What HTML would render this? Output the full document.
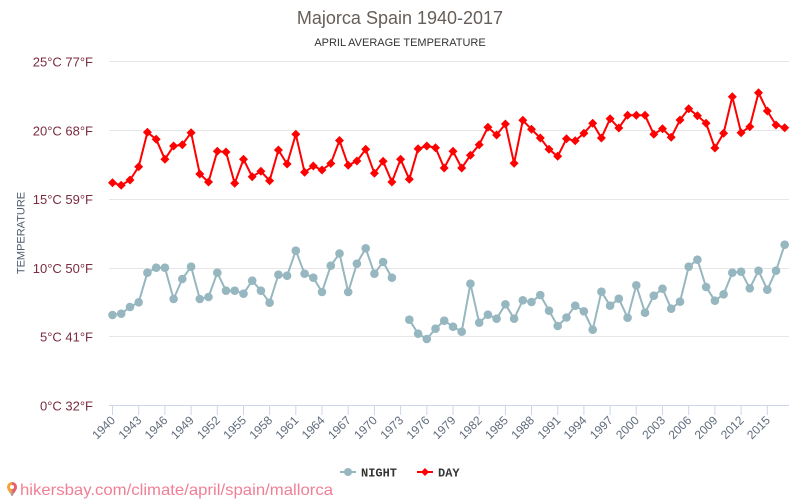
<!DOCTYPE html>
<html>
<head>
<meta charset="utf-8">
<style>
html,body{margin:0;padding:0;background:#fff;}
svg{display:block;}
text{font-family:"Liberation Sans",sans-serif;}
</style>
</head>
<body>
<svg width="800" height="500" viewBox="0 0 800 500" xmlns="http://www.w3.org/2000/svg">
<defs>
<marker id="dia" markerUnits="userSpaceOnUse" markerWidth="10" markerHeight="10" refX="5" refY="5" viewBox="0 0 10 10">
<path d="M5 0.5 L9.5 5 L5 9.5 L0.5 5 Z" fill="#ff0000"/>
</marker>
<marker id="cir" markerUnits="userSpaceOnUse" markerWidth="10" markerHeight="10" refX="5" refY="5" viewBox="0 0 10 10">
<circle cx="5" cy="5" r="4.3" fill="#97b7c0"/>
</marker>
</defs>

<!-- titles -->
<text x="400" y="24" text-anchor="middle" font-size="18" fill="#665e58">Majorca Spain 1940-2017</text>
<text x="400" y="46" text-anchor="middle" font-size="11" fill="#333">APRIL AVERAGE TEMPERATURE</text>

<!-- grid -->
<g stroke="#e6e6e6" stroke-width="1">
<line x1="109" y1="61.5" x2="789" y2="61.5"/>
<line x1="109" y1="130.5" x2="789" y2="130.5"/>
<line x1="109" y1="199.5" x2="789" y2="199.5"/>
<line x1="109" y1="268.5" x2="789" y2="268.5"/>
<line x1="109" y1="336.5" x2="789" y2="336.5"/>
</g>
<line x1="109" y1="405.5" x2="789" y2="405.5" stroke="#ccd6eb" stroke-width="1"/>
<path stroke="#ccd6eb" stroke-width="1" d="M112.5 405.5V415M138.7 405.5V415M164.9 405.5V415M191.1 405.5V415M217.3 405.5V415M243.5 405.5V415M269.6 405.5V415M295.8 405.5V415M322 405.5V415M348.2 405.5V415M374.4 405.5V415M400.6 405.5V415M426.8 405.5V415M453 405.5V415M479.2 405.5V415M505.4 405.5V415M531.5 405.5V415M557.7 405.5V415M583.9 405.5V415M610.1 405.5V415M636.3 405.5V415M662.5 405.5V415M688.7 405.5V415M714.9 405.5V415M741.1 405.5V415M767.3 405.5V415"/>

<!-- y labels -->
<g font-size="13" fill="#7b2c3f" text-anchor="end">
<text x="93" y="66.5">25°C 77°F</text>
<text x="93" y="135.3">20°C 68°F</text>
<text x="93" y="204">15°C 59°F</text>
<text x="93" y="272.8">10°C 50°F</text>
<text x="93" y="341.5">5°C 41°F</text>
<text x="93" y="410.3">0°C 32°F</text>
</g>
<text transform="translate(24.5,233) rotate(-90)" text-anchor="middle" font-size="11" fill="#4d5b6e">TEMPERATURE</text>

<!-- x labels -->
<g font-size="12" fill="#5f6b7b" text-anchor="end">
<text transform="translate(116,421) rotate(-45)">1940</text>
<text transform="translate(142.2,421) rotate(-45)">1943</text>
<text transform="translate(168.4,421) rotate(-45)">1946</text>
<text transform="translate(194.6,421) rotate(-45)">1949</text>
<text transform="translate(220.8,421) rotate(-45)">1952</text>
<text transform="translate(247,421) rotate(-45)">1955</text>
<text transform="translate(273.1,421) rotate(-45)">1958</text>
<text transform="translate(299.3,421) rotate(-45)">1961</text>
<text transform="translate(325.5,421) rotate(-45)">1964</text>
<text transform="translate(351.7,421) rotate(-45)">1967</text>
<text transform="translate(377.9,421) rotate(-45)">1970</text>
<text transform="translate(404.1,421) rotate(-45)">1973</text>
<text transform="translate(430.3,421) rotate(-45)">1976</text>
<text transform="translate(456.5,421) rotate(-45)">1979</text>
<text transform="translate(482.7,421) rotate(-45)">1982</text>
<text transform="translate(508.9,421) rotate(-45)">1985</text>
<text transform="translate(535,421) rotate(-45)">1988</text>
<text transform="translate(561.2,421) rotate(-45)">1991</text>
<text transform="translate(587.4,421) rotate(-45)">1994</text>
<text transform="translate(613.6,421) rotate(-45)">1997</text>
<text transform="translate(639.8,421) rotate(-45)">2000</text>
<text transform="translate(666,421) rotate(-45)">2003</text>
<text transform="translate(692.2,421) rotate(-45)">2006</text>
<text transform="translate(718.4,421) rotate(-45)">2009</text>
<text transform="translate(744.6,421) rotate(-45)">2012</text>
<text transform="translate(770.8,421) rotate(-45)">2015</text>
</g>

<!-- NIGHT series -->
<g fill="none" stroke="#97b7c0" stroke-width="2" stroke-linejoin="round" marker-start="url(#cir)" marker-mid="url(#cir)" marker-end="url(#cir)">
<polyline points="112.5,315 121.2,313.7 130.0,307 138.7,302.3 147.4,272.7 156.2,267.7 164.9,267.7 173.6,299 182.3,279 191.1,266.7 199.8,299 208.5,297 217.3,272.7 226.0,290.7 234.7,290.7 243.5,293.7 252.2,280.7 260.9,290.7 269.6,302.7 278.4,274.7 287.1,275.7 295.8,250.7 304.6,273.7 313.3,277.7 322.0,292 330.8,265.7 339.5,253.5 348.2,292 356.9,263.7 365.7,248.3 374.4,273.7 383.1,262 391.9,277.7"/>
<polyline points="409.3,319.7 418.1,333.7 426.8,339 435.5,328.7 444.2,320.7 453.0,326.7 461.7,331.7 470.4,283.7 479.2,322.7 487.9,314.7 496.6,318.7 505.4,304.3 514.1,318.7 522.8,300.3 531.5,302 540.3,295 549.0,310.7 557.7,326 566.5,317.5 575.2,305.7 583.9,311.3 592.7,329.7 601.4,291.7 610.1,305.7 618.8,298.7 627.6,317.7 636.3,285.3 645.0,312.7 653.8,295.7 662.5,288.7 671.2,308.7 680.0,301.7 688.7,266.7 697.4,259.7 706.1,287 714.9,300.7 723.6,294.3 732.3,272.7 741.1,271.7 749.8,288.3 758.5,270.7 767.3,289.7 776.0,270.7 784.7,244.7"/>
</g>

<!-- DAY series -->
<polyline fill="none" stroke="#ff0000" stroke-width="2" stroke-linejoin="round" marker-start="url(#dia)" marker-mid="url(#dia)" marker-end="url(#dia)" points="112.5,182.7 121.2,185.3 130.0,180 138.7,166.7 147.4,132.3 156.2,139.3 164.9,159.3 173.6,146 182.3,144.7 191.1,132.7 199.8,174 208.5,182 217.3,151.3 226.0,152 234.7,183.3 243.5,159.3 252.2,176.7 260.9,171.3 269.6,180.7 278.4,150 287.1,164 295.8,134.3 304.6,172.3 313.3,166 322.0,170 330.8,163.5 339.5,140.5 348.2,165.3 356.9,161 365.7,149.3 374.4,173.3 383.1,161.3 391.9,182 400.6,159.3 409.3,179.3 418.1,148.7 426.8,146 435.5,147.7 444.2,168 453.0,151.3 461.7,168 470.4,155.3 479.2,144.7 487.9,127.3 496.6,135 505.4,124 514.1,163.3 522.8,120.3 531.5,129.3 540.3,138 549.0,149.3 557.7,156.3 566.5,138.8 575.2,140.7 583.9,133.3 592.7,123.3 601.4,138 610.1,118.7 618.8,128 627.6,115.3 636.3,115.3 645.0,115.3 653.8,134.3 662.5,128.7 671.2,137.3 680.0,120 688.7,108.7 697.4,115.7 706.1,123.3 714.9,148 723.6,133.3 732.3,96.7 741.1,132.7 749.8,126.7 758.5,92.7 767.3,111 776.0,125 784.7,127.7"/>

<!-- legend -->
<line x1="340" y1="472" x2="356" y2="472" stroke="#97b7c0" stroke-width="2"/>
<circle cx="348" cy="472" r="4" fill="#97b7c0"/>
<text x="361" y="476.5" font-family="Liberation Mono, monospace" font-weight="bold" font-size="12" fill="#333" style="font-family:'Liberation Mono',monospace">NIGHT</text>
<line x1="417" y1="472" x2="433" y2="472" stroke="#ff0000" stroke-width="2"/>
<path d="M425 468 L429 472 L425 476 L421 472 Z" fill="#ff0000"/>
<text x="438" y="476.5" font-weight="bold" font-size="12" fill="#333" style="font-family:'Liberation Mono',monospace">DAY</text>

<!-- watermark -->
<g>
<path d="M12 482 a5 5 0 0 1 5 5 c0 3 -3 6 -5 9 c-2 -3 -5 -6 -5 -9 a5 5 0 0 1 5 -5 z" fill="#f5a23a"/>
<path d="M12 482 a5 5 0 0 1 5 5 c0 3 -3 6 -5 9 z" fill="#e8606e"/>
<circle cx="12" cy="487" r="2" fill="#fff"/>
<path d="M12 491 l0 5" stroke="#8fa6ad" stroke-width="1.5"/>
</g>
<text x="20" y="495" font-size="16" fill="#f07f95" textLength="313" lengthAdjust="spacingAndGlyphs">hikersbay.com/climate/april/spain/mallorca</text>
</svg>
</body>
</html>
